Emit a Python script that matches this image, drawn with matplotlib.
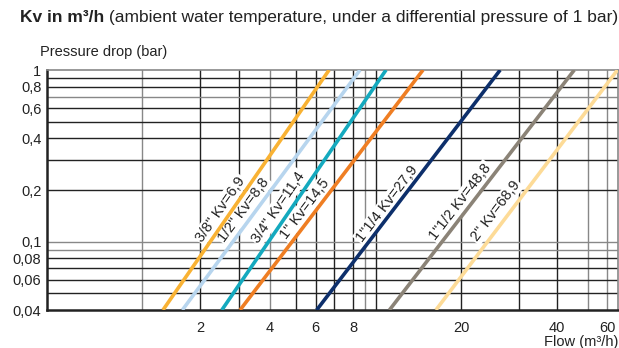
import numpy as np
import matplotlib
matplotlib.use("Agg")
import matplotlib.pyplot as plt
from matplotlib.ticker import FixedLocator, NullLocator, FixedFormatter

# ---- data ----
labels = ['3/8" Kv=6,9', '1/2" Kv=8,8', '3/4" Kv=11,4', '1" Kv=14,5',
          '1"1/4 Kv=27,9', '1"1/2 Kv=48,8', '2" Kv=68,9']
q_low = [1.285, 1.62, 2.51, 3.03, 6.06, 11.16, 16.3]     # flow at 0.04 bar
q_high = [6.72, 8.57, 10.85, 14.67, 26.3, 45.3, 69.5]    # flow at 1 bar
dp_low = 0.04
dp_high = 1.0
label_dp = [0.155, 0.153, 0.159, 0.155, 0.166, 0.171, 0.151]
colors = ['#F9B233', '#B7D5EE', '#14A9BE', '#EF7E23', '#0D2F6B', '#8B8377', '#FDDB97']

x_ticks = [2, 4, 6, 8, 20, 40, 60]
x_ticklabels = ['2', '4', '6', '8', '20', '40', '60']
y_ticks = [1, 0.8, 0.6, 0.4, 0.2, 0.1, 0.08, 0.06, 0.04]
y_ticklabels = ['1', '0,8', '0,6', '0,4', '0,2', '0,1', '0,08', '0,06', '0,04']

x_grid = [1, 2, 3, 4, 5, 6, 7, 8, 9, 10, 20, 30, 40, 50, 60]
y_grid = [0.05, 0.06, 0.07, 0.08, 0.09, 0.1, 0.2, 0.3, 0.4, 0.5, 0.6, 0.7, 0.8, 0.9]
x_grid_gray = [1, 4, 9, 50, 60]
y_grid_gray = [0.7, 0.1, 0.09]

# printed (hand-drawn) flow axis: value -> relative position along the axis
scale_vals = [0.5, 1, 2, 3, 4, 5, 6, 7, 8, 9, 10, 20, 30, 40, 50, 60, 70]
scale_pos = [47, 142, 200, 239, 270, 296, 315.5, 334, 353, 365, 376, 461, 519, 557, 588, 607, 618]
label_shift = [-9, -9, -10, -9, -7.5, -9, -11]   # points, horizontal

FONT = ['Liberation Sans Narrow', 'Liberation Sans', 'DejaVu Sans']
plt.rcParams['font.family'] = FONT

lv = np.log10(scale_vals)
sp = np.array(scale_pos, dtype=float)
lv_e = np.concatenate([[lv[0] - 10], lv, [lv[-1] + 10]])
s0 = (sp[1] - sp[0]) / (lv[1] - lv[0])
s1 = (sp[-1] - sp[-2]) / (lv[-1] - lv[-2])
sp_e = np.concatenate([[sp[0] - 10 * s0], sp, [sp[-1] + 10 * s1]])


def fwd(x):
    x = np.asarray(x, dtype=float)
    return np.interp(np.log10(np.clip(x, 1e-12, None)), lv_e, sp_e)


def inv(p):
    p = np.asarray(p, dtype=float)
    return 10 ** np.interp(p, sp_e, lv_e)


fig = plt.figure(figsize=(6.19, 3.48), dpi=100)
W, H = 619, 348
ax = fig.add_axes([47 / W, 1 - 310 / H, (618 - 47) / W, (310 - 70) / H])
ax.set_xscale('function', functions=(fwd, inv))
ax.set_yscale('log')
ax.set_xlim(scale_vals[0], scale_vals[-1])
ax.set_ylim(dp_low, dp_high)

for g in x_grid:
    ax.axvline(g, color='#888888' if g in x_grid_gray else '#222222', lw=1.0, zorder=1)
for g in y_grid:
    ax.axhline(g, color='#888888' if g in y_grid_gray else '#222222', lw=1.0, zorder=1)

for s in ['top', 'right']:
    ax.spines[s].set_color('#888888')
    ax.spines[s].set_linewidth(1.2)
for s in ['left', 'bottom']:
    ax.spines[s].set_color('#222222')
    ax.spines[s].set_linewidth(1.8)

for ql, qh, c in zip(q_low, q_high, colors):
    ax.plot([ql, qh], [dp_low, dp_high], color=c, lw=2.6, solid_capstyle='butt', zorder=3)

ax.xaxis.set_major_locator(FixedLocator(x_ticks))
ax.xaxis.set_major_formatter(FixedFormatter(x_ticklabels))
ax.xaxis.set_minor_locator(NullLocator())
ax.yaxis.set_major_locator(FixedLocator(y_ticks))
ax.yaxis.set_major_formatter(FixedFormatter(y_ticklabels))
ax.yaxis.set_minor_locator(NullLocator())
ax.tick_params(axis='both', length=0, labelsize=10.5, colors='#222222')
ax.tick_params(axis='x', pad=8)
ax.tick_params(axis='y', pad=4)

fig.canvas.draw()
for lab, ql, qh, ldp, sh in zip(labels, q_low, q_high, label_dp, label_shift):
    p0 = ax.transData.transform((ql, dp_low))
    p1 = ax.transData.transform((qh, dp_high))
    py = ax.transData.transform((1.0, ldp))[1]
    t = (py - p0[1]) / (p1[1] - p0[1])
    px = p0[0] + t * (p1[0] - p0[0])
    xd, yd = ax.transData.inverted().transform((px, py))
    ang = np.degrees(np.arctan2(p1[1] - p0[1], p1[0] - p0[0]))
    ax.annotate(lab, xy=(xd, yd), xycoords='data', xytext=(sh, 0), textcoords='offset points',
                rotation=ang, ha='center', va='center', fontsize=10.5, color='#222222',
                bbox=dict(boxstyle='square,pad=0.1', fc='white', ec='none'), zorder=2)

fig.text(40 / W, 1 - 52 / H, 'Pressure drop (bar)', fontsize=10.5, color='#222222',
         ha='left', va='center')
fig.text(618 / W, 1 - 342 / H, 'Flow (m³/h)', fontsize=10.5, color='#222222',
         ha='right', va='center')

t1 = fig.text(20 / W, 1 - 22 / H, 'Kv in m³/h', fontsize=12.5, fontweight='bold',
              color='#222222', ha='left', va='baseline')
ax.annotate(' (ambient water temperature, under a differential pressure of 1 bar)',
            xy=(1, 0), xycoords=t1, ha='left', va='bottom', fontsize=12.5, color='#222222',
            annotation_clip=False)

fig.savefig('out.png', dpi=100)
